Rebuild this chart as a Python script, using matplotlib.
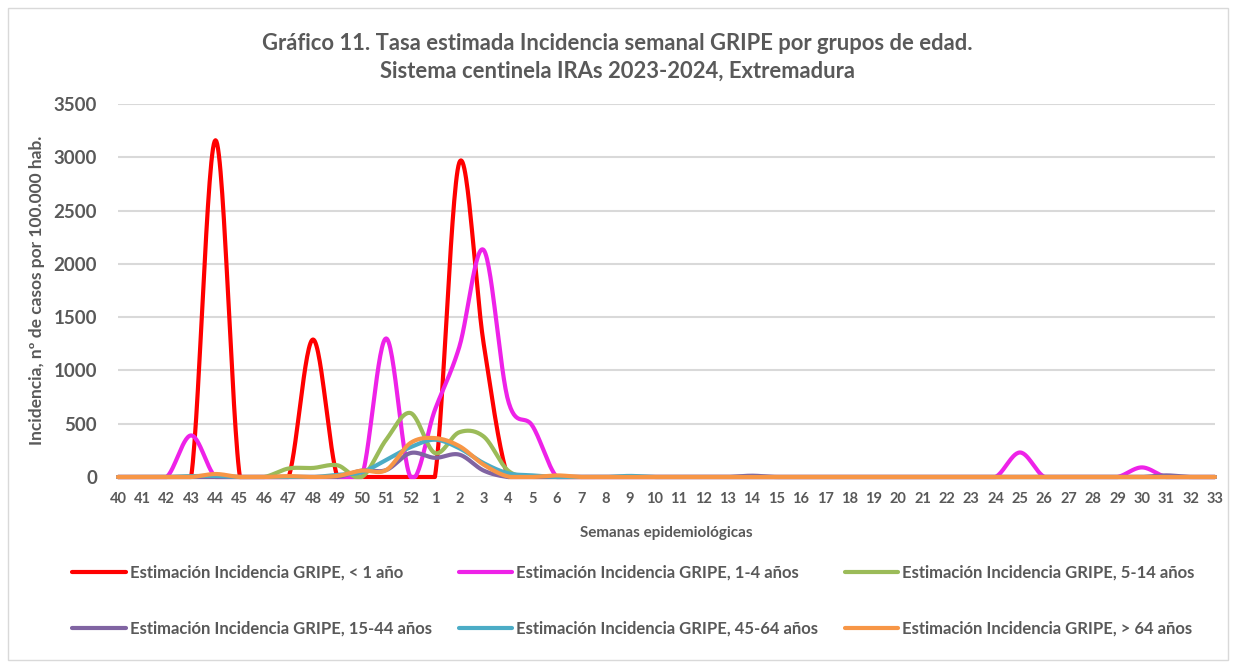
import numpy as np
import matplotlib.pyplot as plt
from matplotlib.patches import Rectangle

plt.rcParams['font.family'] = ['Lato', 'DejaVu Sans']

# weeks 40..52 of 2023 and 1..33 of 2024
semanas = [str(w) for w in range(40, 53)] + [str(w) for w in range(1, 34)]

def serie(valores):
    # valores: dict semana -> tasa, the rest is 0
    return [valores.get(s, 0) for s in semanas]

menor_1 = serie({'44': 3160, '48': 1290, '2': 2950, '3': 1250})
de_1_4 = serie({'43': 390, '51': 1300, '1': 630, '2': 1220, '3': 2130,
                '4': 720, '5': 480, '25': 230, '30': 90})
de_5_14 = serie({'47': 80, '48': 85, '49': 110, '51': 350, '52': 600,
                 '1': 225, '2': 420, '3': 380, '4': 60})
de_15_44 = serie({'50': 60, '51': 65, '52': 225, '1': 180, '2': 210,
                  '3': 60, '14': 12, '31': 15})
de_45_64 = serie({'43': 8, '44': 10, '49': 20, '50': 45, '51': 160,
                  '52': 280, '1': 350, '2': 270, '3': 130, '4': 35,
                  '5': 15, '9': 10})
mayor_64 = serie({'44': 28, '47': 8, '49': 10, '50': 60, '51': 65,
                  '52': 320, '1': 365, '2': 290, '3': 115, '4': 5,
                  '6': 15})

series = [
    ('Estimación Incidencia GRIPE, < 1 año', menor_1, '#FF0000'),
    ('Estimación Incidencia GRIPE, 1-4 años', de_1_4, '#EE22E8'),
    ('Estimación Incidencia GRIPE, 5-14 años', de_5_14, '#9BBB59'),
    ('Estimación Incidencia GRIPE, 15-44 años', de_15_44, '#8064A2'),
    ('Estimación Incidencia GRIPE, 45-64 años', de_45_64, '#4BACC6'),
    ('Estimación Incidencia GRIPE, > 64 años', mayor_64, '#F79646'),
]


def suavizar(x, y, n=30):
    # Excel-like smoothed line (Catmull-Rom as cubic Bezier)
    x = np.asarray(x, float)
    y = np.asarray(y, float)
    px = np.concatenate([[x[0]], x, [x[-1]]])
    py = np.concatenate([[y[0]], y, [y[-1]]])
    t = np.linspace(0, 1, n)[:, None]
    xs, ys = [], []
    for i in range(1, len(px) - 2):
        p0 = np.array([px[i], py[i]])
        p3 = np.array([px[i + 1], py[i + 1]])
        p1 = p0 + (np.array([px[i + 1], py[i + 1]]) - np.array([px[i - 1], py[i - 1]])) / 6
        p2 = p3 - (np.array([px[i + 2], py[i + 2]]) - np.array([px[i], py[i]])) / 6
        b = ((1 - t) ** 3) * p0 + 3 * ((1 - t) ** 2) * t * p1 + 3 * (1 - t) * t ** 2 * p2 + t ** 3 * p3
        xs.append(b[:, 0])
        ys.append(b[:, 1])
    return np.concatenate(xs), np.concatenate(ys)


fig = plt.figure(figsize=(12.35, 6.68), dpi=100)
ax = fig.add_axes([118 / 1235, 1 - 477 / 668, (1215 - 118) / 1235, (477 - 104) / 668])

pos = np.arange(len(semanas))
lineas = []
for nombre, valores, color in series:
    xs, ys = suavizar(pos, valores)
    ys = np.clip(ys, 0, None)
    ln, = ax.plot(xs, ys, color=color, lw=3, label=nombre, clip_on=False,
                  solid_capstyle='round')
    lineas.append(ln)

ax.set_xlim(0, len(semanas) - 1)
ax.set_ylim(0, 3500)
ax.set_yticks(range(0, 3501, 500))
ax.set_xticks(pos)
ax.set_xticklabels(semanas)
ax.grid(axis='y', color='#D9D9D9', lw=1.5)
ax.set_axisbelow(True)
for s in ax.spines.values():
    s.set_visible(False)
ax.tick_params(length=0)
ax.tick_params(axis='x', labelsize=10.5, colors='#595959', pad=11)
ax.tick_params(axis='y', labelsize=13.5, colors='#595959', pad=15)
for lab in ax.get_xticklabels() + ax.get_yticklabels():
    lab.set_fontweight('bold')

ax.set_ylabel('Incidencia, nº de casos por 100.000 hab.', fontsize=12.5,
              fontweight='bold', color='#595959', labelpad=6)
ax.set_xlabel('Semanas epidemiológicas', fontsize=11, fontweight='bold',
              color='#595959', labelpad=14)

fig.text(0.5, 1 - 57 / 668, 'Gráfico 11. Tasa estimada Incidencia semanal GRIPE por grupos de edad.\n'
         'Sistema centinela IRAs 2023-2024, Extremadura', ha='center', va='center',
         fontsize=15.8, fontweight='bold', color='#595959', linespacing=1.4)

# row-wise order in a 3-column legend
orden = [0, 3, 1, 4, 2, 5]
leg = fig.legend([lineas[i] for i in orden], [series[i][0] for i in orden],
                 loc='center', bbox_to_anchor=(0.513, 1 - 601 / 668), ncol=3,
                 frameon=False, fontsize=12, handlelength=3.2, columnspacing=1.6,
                 labelspacing=2.4, handletextpad=0.25)
for t in leg.get_texts():
    t.set_fontweight('bold')
    t.set_color('#595959')

fig.patches.append(Rectangle((8 / 1235, 8 / 668), 1220 / 1235, 652 / 668,
                             transform=fig.transFigure, fill=False,
                             edgecolor='#D9D9D9', lw=1))

fig.savefig('out.png', dpi=100)
